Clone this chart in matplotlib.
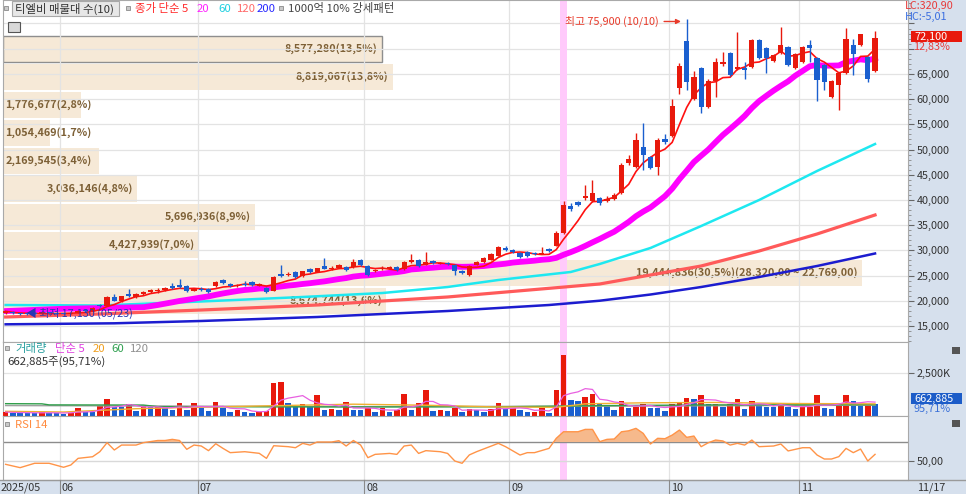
import numpy as np
import pandas as pd
import matplotlib

matplotlib.use("Agg")
import matplotlib.pyplot as plt
from matplotlib.patches import Rectangle
from matplotlib.lines import Line2D
from matplotlib.ticker import MultipleLocator, FuncFormatter

plt.rcParams["font.family"] = ["Noto Sans CJK KR", "DejaVu Sans"]

# ---------------------------------------------------------------- data
# bar index 0 = 2025-06-02, first bar (-8) = 2025-05-21, last (112) = 2025-11-17
first_bar = -8
opens = [
    17500, 17800, 17500, 17500, 17500, 17400, 17700, 17550,
    17500, 17400, 17600, 18100, 17900, 19100, 19000, 20700, 20000, 21400,
    20800, 21300, 21800, 21900, 22100, 22900, 23200, 22900, 22000,
    22400, 22400, 22900, 24200, 23300, 22900, 23300, 23700, 23000, 22500,
    22000, 25400, 25100, 25600, 24900, 26300, 25700, 26800, 26300, 26500,
    26700, 26600, 28000,
    26900, 25800, 26200, 26300, 26700, 26200, 27700, 28100, 27100, 27900,
    27300, 27500, 27100, 25800, 25100, 27100, 27600, 28100, 28900, 30500,
    30000, 29500, 29700, 29500, 29300, 30200, 30900, 33500, 38800, 39500,
    40300, 39700, 40300, 39800, 40200, 41300, 47300, 46600, 50400, 48600,
    46600, 52000,
    52700, 62300, 71500, 60000, 66100, 58500, 63600, 66900, 69100, 66000,
    66100, 66400, 71700, 70100, 67500, 69100, 70400, 66100,
    67400, 70700, 68100, 66800, 60500, 62800, 65100, 70700, 70700, 68400, 65500,
]
closes = [
    17900, 17500, 17300, 17350, 17400, 17700, 17500, 17450,
    17400, 17600, 18000, 17900, 18500, 19000, 20800, 20000, 20900, 21000,
    21300, 21700, 22200, 22100, 22600, 22600, 22800, 21900, 22400,
    22100, 21800, 23800, 23500, 22900, 23200, 23100, 23200, 23300, 21700,
    24700, 24900, 25400, 24800, 25800, 25600, 26400, 26300, 26500, 27000,
    26000, 27700, 27000,
    25200, 26000, 26500, 26600, 26000, 27700, 28000, 26800, 27700, 27400,
    27500, 27300, 25800, 25500, 26900, 27700, 28400, 29300, 30600, 30100,
    29600, 28700, 28800, 29200, 29500, 29800, 33400, 39000, 38200, 39000,
    40700, 41400, 39300, 40200, 41000, 46900, 48100, 51900, 48900, 46300,
    51900, 51400,
    58600, 66500, 63300, 64400, 58500, 63600, 67400, 67400, 64800, 66400,
    65800, 71700, 68100, 68100, 68700, 70800, 66800, 68900,
    70400, 70200, 63800, 63400, 63600, 65100, 71900, 68900, 72850, 63900, 72100,
]
highs = [
    18000, 17900, 17600, 17650, 17700, 17800, 17800, 17650,
    17600, 17700, 18200, 18300, 18700, 19400, 20900, 21300, 21000, 22300,
    21500, 21900, 22400, 22500, 22800, 23600, 24300, 23100, 22600,
    22700, 22500, 24000, 24300, 23500, 23400, 24000, 23900, 23500, 22700,
    24900, 27000, 25600, 25800, 25900, 26400, 26500, 28400, 26800, 27200,
    26900, 28300, 28200,
    27000, 26300, 26800, 26900, 26900, 27900, 29200, 28300, 29700, 28000,
    27700, 27700, 27200, 26000, 27000, 27900, 28600, 29500, 30800, 30900,
    30300, 29700, 29900, 29700, 30600, 30400, 33800, 39800, 39300, 39800,
    42900, 44000, 40600, 40800, 41300, 47400, 48900, 53300, 55300, 48800,
    52300, 53000,
    60100, 67200, 75900, 65500, 66300, 64000, 68200, 69400, 69300, 73400,
    67400, 71900, 71900, 70300, 69000, 74300, 70600, 69100,
    70600, 71700, 68300, 67000, 63800, 65300, 74200, 72000, 73000, 68600, 73500,
]
lows = [
    17400, 17400, 17130, 17250, 17300, 17350, 17400, 17350,
    17300, 17300, 17500, 17800, 17800, 18700, 18900, 19900, 19800, 20800,
    20600, 21100, 21600, 21600, 21900, 22400, 22600, 21700, 21900,
    22000, 21600, 22700, 23300, 22700, 22700, 22900, 23000, 22900, 21500,
    21900, 24650, 25000, 24600, 24800, 25500, 25600, 26200, 26100, 26400,
    25900, 26500, 26900,
    25000, 25600, 26000, 26200, 25900, 26100, 27500, 26600, 27000, 27200,
    27200, 27100, 25100, 25300, 25000, 27000, 27500, 28000, 28800, 29900,
    29400, 28500, 28600, 29000, 29200, 29600, 30800, 33300, 37800, 38700,
    40000, 39500, 39000, 39600, 40000, 41200, 47000, 46400, 45900, 46100,
    44900, 51000,
    52500, 61000, 61900, 59800, 57200, 58300, 60500, 66600, 64600, 65800,
    63900, 66200, 67900, 65100, 67300, 68900, 66500, 65900,
    67200, 67400, 59600, 61800, 60300, 57800, 64900, 64800, 70500, 63400, 65300,
]
volumes = [  # thousand shares
    230, 190, 180, 170, 150, 230, 200, 150,
    140, 190, 440, 250, 240, 580, 1000, 520, 500, 710,
    290, 580, 520, 540, 440, 350, 770, 350, 770,
    480, 290, 810, 440, 230, 330, 250, 190, 230, 290,
    1890, 1960, 770, 580, 670, 580, 1190, 350, 420, 350,
    830, 350, 330,
    440, 250, 440, 250, 330, 1290, 350, 770, 1480, 290,
    350, 290, 480, 250, 380, 330, 250, 380, 770, 380,
    440, 350, 230, 240, 440, 190, 1480, 3500, 900, 880,
    1120, 1250, 670, 650, 350, 870, 480, 520, 710, 480,
    440, 290,
    710, 810, 1060, 960, 1190, 670, 710, 520, 670, 960,
    380, 870, 630, 520, 500, 770, 520, 380,
    520, 540, 1190, 480, 420, 770, 1190, 870, 580, 692.6, 662.885,
]

# moving averages (bar index, price)
# MA20: start of the line (before 20 bars of history are on screen)
ma20_head_bar = [-8, 0]
ma20_head_val = [17950, 18400]
ma60_bar = [-8, 5, 19, 33, 44, 53, 60, 70, 74, 81, 88, 96, 104, 112]
ma60_val = [19150, 19050, 19850, 20740, 21530, 22720, 24110, 25700, 27285, 30460,
            34820, 39980, 45740, 51090]
ma120_bar = [-8, 5, 19, 35, 53, 74, 88, 96, 104, 112]
ma120_val = [16770, 17365, 18160, 19150, 20740, 23320, 26890, 29860, 33240, 37010]
ma200_bar = [-8, 7, 19, 35, 53, 67, 74, 81, 88, 96, 104, 112]
ma200_val = [15320, 15520, 15980, 16770, 17960, 19150, 20000, 21230, 22720, 24710,
             26890, 29370]

vol_ma20_bar = [-8, 0, 10, 20, 30, 40, 50, 60, 68, 72, 80, 90, 100, 112]
vol_ma20_val = [270, 230, 420, 520, 600, 680, 620, 520, 500, 700, 760, 780, 720, 700]
vol_ma60_bar = [-8, -3, -2, 11, 13, 40, 60, 75, 90, 112]
vol_ma60_val = [710, 700, 640, 630, 540, 520, 530, 600, 640, 650]
vol_ma120_bar = [-8, 40, 70, 112]
vol_ma120_val = [600, 540, 560, 620]

rsi_bar = [-8, -6, -4, -2, 0, 1, 2, 4, 5, 6, 7, 8, 10, 11, 13, 14, 15, 16, 17, 18,
           19, 20, 21, 22, 23, 25, 27, 28, 29, 31, 32, 33, 34, 35, 37, 38, 39, 40,
           41, 42, 43, 45, 46, 47, 48, 49, 50, 52, 53, 54, 55, 56, 57, 60, 61, 63,
           64, 65, 67, 68, 69, 71, 72, 73, 74, 75, 76, 77, 78, 79, 80, 81, 82, 83,
           84, 85, 86, 87, 88, 89, 90, 91, 92, 93, 94, 95, 96, 98, 99, 100, 102,
           103, 104, 105, 106, 107, 108, 109, 110, 111, 112]
rsi_val = [46.5, 43, 47.6, 47.6, 43.4, 45.8, 52.8, 54.5, 59.8, 69.3, 61.6, 66.8,
           66.8, 69.3, 71.6, 71.6, 72.8, 71.6, 62.3, 66.8, 65.8, 60.9, 68.2, 63.3,
           58.8, 59.8, 58.1, 52.8, 66.1, 65.1, 64.0, 68.6, 66.8, 70.0, 70.0, 71.4,
           65.8, 71.6, 66.8, 53.5, 57, 58, 57, 65.8, 66.8, 58, 60.9, 59.8, 58, 50,
           47.6, 56.4, 59.8, 68.6, 65.1, 56.3, 58.8, 58.8, 63.3, 73.9, 80.8, 80.8,
           83.3, 83.3, 70.4, 72.8, 73.2, 80.8, 81.8, 84.4, 79.1, 67.9, 73.9, 73.5,
           77.3, 82.6, 74.9, 76.3, 65.1, 69.3, 72.1, 71.1, 66.8, 68.6, 66.8, 72.1,
           65.1, 65.8, 67.9, 60.6, 64.0, 64.0, 56.3, 52.1, 52.1, 54.6, 63.3, 58.8,
           62.6, 50, 57]

# volume profile (매물대), price bins from top to bottom
profile_edges = [72728, 67177, 61626, 56075, 50524, 44973, 39422, 33871, 28320, 22769, 17218]
profile_vol = [8577280, 8819067, 1776677, 1054469, 2169545, 3036146, 5696936,
               4427939, 19444836, 8674744]

month_labels = ["06", "07", "08", "09", "10", "11"]
month_first_bar = [0, 19, 42, 62, 84, 102]
highlight_bar = 69
high_bar, high_price = 86, 75900
low_bar, low_price = -6, 17130

# ---------------------------------------------------------------- layout
W, H = 966, 494
RED = "#e8190c"
BLUE = "#1a5fcf"
GRID = "#e3e3e3"
PANEL = "#d6e0ed"
FS = 7.8

fig = plt.figure(figsize=(W / 100, H / 100), dpi=100)
fig.patch.set_facecolor("white")


def rect(x0, y0, x1, y1):
    return [x0 / W, 1 - y1 / H, (x1 - x0) / W, (y1 - y0) / H]


def ftext(x, y, s, **kw):
    kw.setdefault("fontsize", FS)
    kw.setdefault("va", "center")
    kw.setdefault("ha", "left")
    return fig.text(x / W, 1 - y / H, s, **kw)


def fbox(x0, y0, x1, y1, **kw):
    fig.patches.append(Rectangle((x0 / W, 1 - y1 / H), (x1 - x0) / W, (y1 - y0) / H,
                                 transform=fig.transFigure, **kw))


# side and bottom strips
fbox(908, 0, 966, 494, facecolor=PANEL, edgecolor="none", zorder=-2)
fbox(0, 480, 966, 494, facecolor=PANEL, edgecolor="none", zorder=-2)

bars = np.arange(first_bar, first_bar + len(closes))
opens = np.array(opens, float)
closes = np.array(closes, float)
highs = np.array(highs, float)
lows = np.array(lows, float)
vols = np.array(volumes, float) * 1000
XL = ((3 - 63.6) / 7.245, (908 - 63.6) / 7.245)
P_LO, P_HI = 11810, 79662

# ---- volume profile, underneath the price panel
axp = fig.add_axes(rect(3, 0, 908, 342))
xmax = max(profile_vol) * 905 / 859
axp.set_xlim(0, xmax)
axp.set_ylim(P_LO, P_HI)
axp.axis("off")
total = sum(profile_vol)
for i, v in enumerate(profile_vol):
    top, bot = profile_edges[i], profile_edges[i + 1]
    mid = (top + bot) / 2
    axp.barh(mid, v, height=(top - bot) * 0.92, left=0,
             color="#f6e9d7", edgecolor="#8e8e8e" if i == 0 else "none", lw=1)
    pct = f"{v / total * 100:.1f}".replace(".", ",")
    label = f"{v:,}({pct}%)"
    if v == max(profile_vol):
        label += f"({top:,},00 ~ {bot:,},00)"
    if v / xmax * 905 < 100:
        axp.annotate(label, (0, mid), xytext=(1.5, 0), textcoords="offset points",
                     ha="left", va="center", fontsize=FS, fontweight="bold", color="#7d6036")
    else:
        axp.annotate(label, (v, mid), xytext=(-3, 0), textcoords="offset points",
                     ha="right", va="center", fontsize=FS, fontweight="bold", color="#7d6036")

# ---- price panel
ax = fig.add_axes(rect(3, 0, 908, 342), facecolor="none")
ax.set_xlim(*XL)
ax.set_ylim(P_LO, P_HI)
ax.set_yticks(np.arange(15000, 80000, 5000))
ax.yaxis.set_minor_locator(MultipleLocator(1000))
ax.yaxis.tick_right()
ax.yaxis.set_major_formatter(FuncFormatter(lambda v, _: f"{int(v):,}" if v <= 65000 else ""))
ax.tick_params(axis="y", which="major", length=4, color="#666666", labelsize=FS,
               labelcolor="#333333", pad=2)
ax.tick_params(axis="y", which="minor", length=2, color="#888888")
ax.set_xticks([])
ax.grid(axis="y", color=GRID, lw=0.9)
ax.set_axisbelow(True)
for m in month_first_bar:
    ax.axvline(m - 0.5, color=GRID, lw=0.9, zorder=0.5)
ax.axvspan(highlight_bar - 0.5, highlight_bar + 0.5, color="#ffcafb", lw=0, zorder=0.6)

close_s = pd.Series(closes, index=bars)
ma5 = close_s.rolling(5, min_periods=1).mean()
ma20 = close_s.rolling(20).mean().dropna()
ma20_x = list(ma20_head_bar) + list(ma20.index)
ma20_y = list(ma20_head_val) + list(ma20.values)

ax.plot(ma200_bar, ma200_val, color="#1c1ccf", lw=1.8, zorder=2)
ax.plot(ma120_bar, ma120_val, color="#ff5a5a", lw=2.3, zorder=2)
ax.plot(ma60_bar, ma60_val, color="#1ee8f0", lw=1.8, zorder=2)
ax.plot(ma20_x, ma20_y, color="#ff00ff", lw=4.2, zorder=2, solid_joinstyle="round")
ax.plot(bars, ma5, color="#ff1010", lw=1.2, zorder=2.1)

up = closes >= opens
ccol = np.where(up, RED, BLUE)
ax.vlines(bars, lows, highs, colors=ccol, lw=1, zorder=3)
body = np.maximum(np.abs(closes - opens), 200)
ax.bar(bars, body, bottom=np.minimum(opens, closes), width=0.72, color=ccol, lw=0, zorder=3.1)

ax.text(82.2, 75400, f"최고 {high_price:,} (10/10)", color="#e83a2a", fontsize=FS,
        ha="right", va="center", zorder=5)
ax.annotate("", xy=(high_bar - 0.4, 75400), xytext=(82.5, 75400),
            arrowprops=dict(arrowstyle="-|>", color="#e83a2a", lw=1, mutation_scale=7), zorder=5)
ax.text(low_bar + 0.8, 17500, f"◀ 최저 {low_price:,} (05/23)", color="#2636b4", fontsize=FS,
        ha="left", va="center", zorder=5)
for s in ax.spines.values():
    s.set_color("#a9a9a9")

# ---- volume panel
axv = fig.add_axes(rect(3, 342, 908, 416))
axv.set_xlim(*XL)
axv.set_ylim(0, 4.26e6)
vcol = [RED if i == 0 or vols[i] >= vols[i - 1] else BLUE for i in range(len(vols))]
axv.bar(bars, vols, width=0.76, color=vcol, lw=0, zorder=3)
vma5 = pd.Series(vols).rolling(5, min_periods=1).mean()
axv.plot(vol_ma120_bar, np.array(vol_ma120_val) * 1000, color="#a0a0a0", lw=1, zorder=4)
axv.plot(vol_ma60_bar, np.array(vol_ma60_val) * 1000, color="#2f9e4a", lw=1, zorder=4)
axv.plot(vol_ma20_bar, np.array(vol_ma20_val) * 1000, color="#f0b030", lw=1, zorder=4)
axv.plot(bars, vma5, color="#e860e0", lw=0.9, zorder=4)
axv.yaxis.tick_right()
axv.set_yticks([2500000])
axv.set_yticklabels(["2,500K"])
axv.set_xticks([])
axv.tick_params(axis="y", length=4, color="#666666", labelsize=FS, labelcolor="#333333", pad=2)
axv.grid(axis="y", color=GRID, lw=0.9)
axv.set_axisbelow(True)
for m in month_first_bar:
    axv.axvline(m - 0.5, color=GRID, lw=0.9, zorder=0.5)
axv.axvspan(highlight_bar - 0.5, highlight_bar + 0.5, color="#ffcafb", lw=0, zorder=0.6)
for s in axv.spines.values():
    s.set_color("#a9a9a9")

# ---- RSI panel
axr = fig.add_axes(rect(3, 416, 908, 480))
axr.set_xlim(*XL)
axr.set_ylim(30, 97.4)
rb = np.array(rsi_bar, float)
rv = np.array(rsi_val, float)
axr.fill_between(rb, rv, 70, where=rv > 70, interpolate=True, color="#f6b98c", lw=0, zorder=2)
axr.plot(rb, rv, color="#ff9448", lw=1, zorder=3)
axr.axhline(70, color="#8c8c8c", lw=1, zorder=1)
axr.axhline(50, color="#d9d9d9", lw=1, zorder=1)
axr.yaxis.tick_right()
axr.set_yticks([50])
axr.set_yticklabels(["50,00"])
axr.set_xticks([])
axr.tick_params(axis="y", length=4, color="#666666", labelsize=FS, labelcolor="#333333", pad=2)
for m in month_first_bar:
    axr.axvline(m - 0.5, color=GRID, lw=0.9, zorder=0.5)
axr.axvspan(highlight_bar - 0.5, highlight_bar + 0.5, color="#ffcafb", lw=0, zorder=0.6)
for s in axr.spines.values():
    s.set_color("#a9a9a9")


# ---- legends and labels
def small_square(x, y):
    fbox(x, y, x + 4, y + 4, facecolor="#c9c9c9", edgecolor="#8a8a8a", lw=0.6, zorder=5)


LEG = 8.2
small_square(4, 6)
fbox(12, 1, 119, 16, facecolor="#e7e7e7", edgecolor="#a8a8a8", lw=0.8, zorder=5)
ftext(15, 8.5, "티엘비 매물대 수(10)", color="#333333", fontsize=LEG, zorder=6)
small_square(126, 6)
ftext(135, 8.5, "종가 단순 5", color="#ff2a2a", fontsize=LEG, zorder=6)
ftext(197, 8.5, "20", color="#ff22ff", fontsize=LEG, zorder=6)
ftext(218, 8.5, "60", color="#1ed0e0", fontsize=LEG, zorder=6)
ftext(237, 8.5, "120", color="#ff6a6a", fontsize=LEG, zorder=6)
ftext(257, 8.5, "200", color="#2a2aff", fontsize=LEG, zorder=6)
small_square(279, 6)
ftext(288, 8.5, "1000억 10% 강세패턴", color="#444444", fontsize=LEG, zorder=6)
fbox(8, 22, 20, 32, facecolor="#d8d8d8", edgecolor="#555555", lw=0.8, zorder=5)

small_square(5, 346)
ftext(15, 348.5, "거래량", color="#2aa0a0", fontsize=LEG)
ftext(55, 348.5, "단순 5", color="#e040e0", fontsize=LEG)
ftext(93, 348.5, "20", color="#f0a020", fontsize=LEG)
ftext(111, 348.5, "60", color="#30a050", fontsize=LEG)
ftext(130, 348.5, "120", color="#909090", fontsize=LEG)
ftext(7, 362, "662,885주(95,71%)", color="#333333", fontsize=LEG)

small_square(5, 422)
ftext(15, 424.5, "RSI 14", color="#ff8c40", fontsize=LEG)

# right side value boxes
ftext(905, 5.5, "LC:320,90", color="#e83a3a")
ftext(905, 16.5, "HC:-5,01", color="#3a6ee0")
fbox(911, 31, 962, 42, facecolor=RED, edgecolor="none", zorder=5)
ftext(914, 36.5, f"{closes[-1]:,.0f}", color="white", zorder=6)
ftext(913, 47, "12,83%", color="#e83a3a")
fbox(911, 393, 962, 404, facecolor="#1c5cc8", edgecolor="none", zorder=5)
ftext(914, 398.5, f"{volumes[-1] * 1000:,.0f}", color="white", zorder=6)
ftext(913, 409, "95,71%", color="#3a70d8")
fbox(952, 347, 960, 354, facecolor="#555555", edgecolor="none", zorder=5)
fbox(952, 420, 960, 427, facecolor="#555555", edgecolor="none", zorder=5)

# date strip
fig.lines.append(Line2D([0, 1], [1 - 480 / H] * 2, transform=fig.transFigure, color="#9a9a9a", lw=1))
ftext(1, 487.5, "2025/05", color="#333333")
for lab, m in zip(month_labels, month_first_bar):
    xp = 63.6 + 7.245 * (m - 0.5)
    fig.lines.append(Line2D([xp / W] * 2, [0, 14 / H], transform=fig.transFigure,
                            color="#8a8a8a", lw=0.8))
    ftext(xp + 2, 487.5, lab, color="#333333")
ftext(917, 487.5, "11/17", color="#333333")

fig.savefig("out.png", dpi=100)
